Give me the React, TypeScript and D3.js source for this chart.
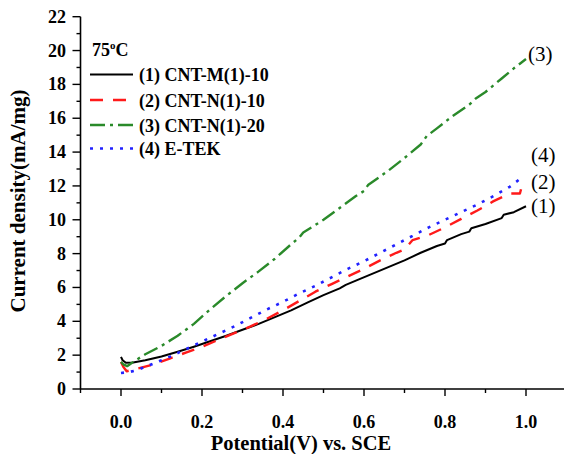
import React from "react";
import * as d3 from "d3";

const xTicks = [0, 0.2, 0.4, 0.6, 0.8, 1.0];
const yTicks = [0, 2, 4, 6, 8, 10, 12, 14, 16, 18, 20, 22];

const s1x = [0, 0.004, 0.012, 0.03, 0.06, 0.10, 0.14, 0.18, 0.22, 0.26, 0.30, 0.34, 0.38, 0.42, 0.46, 0.50, 0.54, 0.555, 0.58, 0.62, 0.66, 0.70, 0.74, 0.78, 0.80, 0.805, 0.84, 0.86, 0.865, 0.90, 0.94, 0.945, 0.97, 1.00];
const s1y = [1.90, 1.70, 1.55, 1.57, 1.70, 1.92, 2.2, 2.5, 2.82, 3.15, 3.5, 3.85, 4.25, 4.65, 5.1, 5.55, 5.95, 6.15, 6.4, 6.8, 7.2, 7.6, 8.05, 8.45, 8.6, 8.8, 9.15, 9.3, 9.5, 9.75, 10.1, 10.3, 10.45, 10.8];

const s2x = [0, 0.006, 0.014, 0.04, 0.08, 0.12, 0.16, 0.20, 0.24, 0.28, 0.32, 0.36, 0.40, 0.44, 0.48, 0.52, 0.56, 0.60, 0.64, 0.68, 0.70, 0.72, 0.76, 0.80, 0.84, 0.88, 0.92, 0.96, 0.985, 0.992];
const s2y = [1.6, 1.3, 1.05, 1.2, 1.45, 1.8, 2.15, 2.5, 2.9, 3.3, 3.7, 4.15, 4.65, 5.2, 5.75, 6.2, 6.65, 7.1, 7.6, 8.05, 8.25, 8.8, 9.1, 9.55, 10.05, 10.55, 11.1, 11.55, 11.55, 12.2];

const s3x = [0, 0.006, 0.015, 0.03, 0.06, 0.10, 0.14, 0.18, 0.22, 0.26, 0.30, 0.34, 0.38, 0.42, 0.44, 0.45, 0.50, 0.54, 0.58, 0.60, 0.61, 0.66, 0.70, 0.74, 0.755, 0.78, 0.82, 0.86, 0.875, 0.90, 0.94, 0.97, 1.0];
const s3y = [1.6, 1.45, 1.35, 1.6, 2.05, 2.55, 3.15, 3.85, 4.7, 5.5, 6.25, 6.95, 7.7, 8.55, 8.95, 9.25, 10.0, 10.7, 11.4, 11.7, 12.05, 12.9, 13.65, 14.45, 14.95, 15.4, 16.15, 16.8, 17.15, 17.55, 18.35, 18.95, 19.5];

const s4x = [0, 0.02, 0.04, 0.08, 0.12, 0.16, 0.20, 0.24, 0.28, 0.32, 0.36, 0.40, 0.44, 0.48, 0.52, 0.56, 0.60, 0.64, 0.68, 0.72, 0.76, 0.80, 0.84, 0.88, 0.92, 0.96, 0.99];
const s4y = [0.95, 1.0, 1.12, 1.5, 1.9, 2.35, 2.8, 3.25, 3.7, 4.2, 4.7, 5.15, 5.65, 6.1, 6.6, 7.1, 7.55, 8.05, 8.55, 9.05, 9.55, 10.0, 10.45, 10.9, 11.4, 11.95, 12.5];

const seriesNames = ["(1) CNT-M(1)-10", "(2) CNT-N(1)-10", "(3) CNT-N(1)-20", "(4) E-TEK"];
const endLabels = ["(1)", "(2)", "(3)", "(4)"];

const FONT = "'Liberation Serif', 'Times New Roman', serif";

export default function App() {
  const x = d3.scaleLinear().domain([-0.1, 1.1]).range([80.5, 566.5]);
  const y = d3.scaleLinear().domain([0, 22]).range([389, 16.7]);
  const line = d3.line<[number, number]>().x((d) => x(d[0])).y((d) => y(d[1]));

  const styles = [
    { color: "#000000", dash: "none", width: 2 },
    { color: "#ff1a1a", dash: "13,10", width: 2.4 },
    { color: "#2a8a2a", dash: "15,5,3,5", width: 2.4 },
    { color: "#2222ff", dash: "3,7", width: 2.6 },
  ];
  const data = [
    s1x.map((v, i) => [v, s1y[i]] as [number, number]),
    s2x.map((v, i) => [v, s2y[i]] as [number, number]),
    s3x.map((v, i) => [v, s3y[i]] as [number, number]),
    s4x.map((v, i) => [v, s4y[i]] as [number, number]),
  ];

  const xMinor = d3.range(-0.1, 1.11, 0.1).map((v) => Math.round(v * 10) / 10);
  const yMinor = d3.range(0, 23, 1);
  const endBaselines = [213, 189, 61, 162];
  const endX = [531, 531, 528, 531];
  const legendY = [74.5, 100, 125, 148.5];

  return (
    <svg width={564} height={454} style={{ position: "absolute", left: 0, top: 0, background: "#fff" }} fontFamily={FONT}>
      <rect width={564} height={454} fill="#fff" />
      <line x1={x(-0.1)} x2={x(-0.1)} y1={y(0)} y2={y(22)} stroke="#000" strokeWidth={1.6} />
      <line x1={x(-0.1)} x2={564} y1={y(0)} y2={y(0)} stroke="#000" strokeWidth={1.6} />
      {yMinor.map((v) => (
        <line key={"ym" + v} x1={x(-0.1)} x2={x(-0.1) - (v % 2 === 0 ? 8 : 4)} y1={y(v)} y2={y(v)} stroke="#000" strokeWidth={1.4} />
      ))}
      {xMinor.map((v) => (
        <line key={"xm" + v} x1={x(v)} x2={x(v)} y1={y(0)} y2={y(0) + (Math.round(v * 10) % 2 === 0 ? 7 : 4)} stroke="#000" strokeWidth={1.4} />
      ))}
      {yTicks.map((v) => (
        <text key={"yt" + v} x={66} y={y(v) + 6} textAnchor="end" fontSize={18} fontWeight="bold">{v}</text>
      ))}
      {xTicks.map((v) => (
        <text key={"xt" + v} x={x(v)} y={428} textAnchor="middle" fontSize={18} fontWeight="bold">{v.toFixed(1)}</text>
      ))}
      <text x={301} y={450} textAnchor="middle" fontSize={20.5} fontWeight="bold">Potential(V) vs. SCE</text>
      <text transform="translate(25,201) rotate(-90)" textAnchor="middle" fontSize={21} fontWeight="bold">Current density(mA/mg)</text>

      {data.map((d, i) => (
        <path key={"s" + i} d={line(d) || ""} fill="none" stroke={styles[i].color} strokeWidth={styles[i].width} strokeDasharray={styles[i].dash} strokeLinejoin="round" />
      ))}

      {endLabels.map((t, i) => (
        <text key={"el" + i} x={endX[i]} y={endBaselines[i]} fontSize={21}>{t}</text>
      ))}

      <text x={92} y={56} fontSize={18} fontWeight="bold">
        75<tspan fontSize={11} dy={-7}>o</tspan><tspan dy={7}>C</tspan>
      </text>
      {seriesNames.map((n, i) => (
        <g key={"lg" + i}>
          <line x1={90} x2={133} y1={legendY[i]} y2={legendY[i]} stroke={styles[i].color} strokeWidth={styles[i].width} strokeDasharray={styles[i].dash} />
          <text x={139} y={legendY[i] + 6.5} fontSize={18} fontWeight="bold">{n}</text>
        </g>
      ))}
    </svg>
  );
}
